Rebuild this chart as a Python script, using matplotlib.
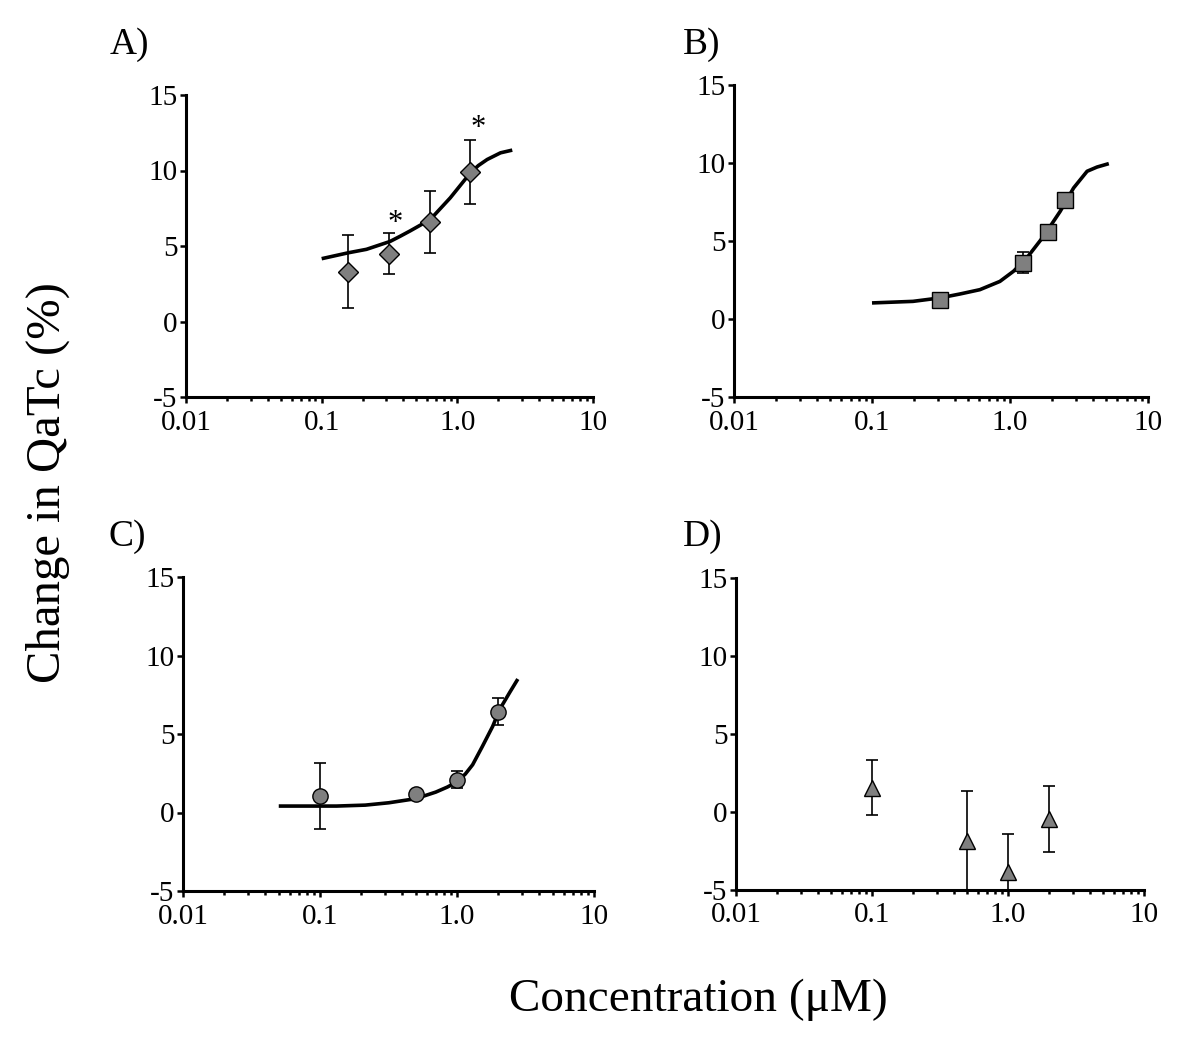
import numpy as np
import matplotlib
matplotlib.use('Agg')
import matplotlib.pyplot as plt
from matplotlib.ticker import FixedLocator, NullFormatter

plt.rcParams['font.family'] = ['Liberation Serif', 'DejaVu Serif']

# Panel A: diamonds
a_x = [0.156, 0.3125, 0.625, 1.25]
a_y = [3.3, 4.5, 6.6, 9.9]
a_err = [2.4, 1.37, 2.07, 2.1]
a_curve_x = [0.10, 0.157, 0.214, 0.319, 0.378, 0.449, 0.631, 0.887, 1.25, 1.43, 1.66, 2.08, 2.54]
a_curve_y = [4.16, 4.55, 4.78, 5.3, 5.64, 6.0, 6.75, 8.19, 9.85, 10.33, 10.73, 11.17, 11.35]
a_star_x = [0.35, 1.42]
a_star_y = [6.5, 12.8]

# Panel B: squares
b_x = [0.3125, 1.25, 1.875, 2.5]
b_y = [1.2, 3.6, 5.6, 7.6]
b_err = [0.0, 0.68, 0.0, 0.0]
b_curve_x = [0.10, 0.198, 0.31, 0.432, 0.605, 0.845, 1.06, 1.32, 1.75, 2.31, 2.89, 3.62, 4.27, 5.2]
b_curve_y = [1.03, 1.13, 1.35, 1.6, 1.88, 2.41, 3.06, 3.9, 5.3, 6.9, 8.4, 9.47, 9.74, 9.96]

# Panel C: circles
c_x = [0.1, 0.5, 1.0, 2.0]
c_y = [1.05, 1.2, 2.08, 6.42]
c_err = [2.1, 0.0, 0.55, 0.85]
c_curve_x = [0.05, 0.132, 0.214, 0.318, 0.5, 0.70, 0.85, 1.0, 1.15, 1.30, 1.53, 1.82, 2.05, 2.43, 2.78]
c_curve_y = [0.41, 0.41, 0.47, 0.62, 0.88, 1.3, 1.62, 1.95, 2.45, 3.04, 4.2, 5.48, 6.57, 7.66, 8.5]

# Panel D: triangles
d_x = [0.1, 0.5, 1.0, 2.0]
d_y = [1.55, -1.87, -3.87, -0.45]
d_err = [1.77, 3.2, 2.45, 2.13]

x_ticks = [0.01, 0.1, 1.0, 10]
x_ticklabels = ['0.01', '0.1', '1.0', '10']
y_ticks = [-5, 0, 5, 10, 15]
y_ticklabels = ['-5', '0', '5', '10', '15']

W, H = 1200, 1042
dpi = 100
fig = plt.figure(figsize=(W / dpi, H / dpi), dpi=dpi)


def px_axes(left, right, bottom, top):
    return fig.add_axes([left / W, 1 - bottom / H, (right - left) / W, (bottom - top) / H])


def style(ax):
    ax.set_xscale('log')
    ax.set_xlim(0.01, 10)
    ax.set_ylim(-5, 15)
    for s in ['top', 'right']:
        ax.spines[s].set_visible(False)
    for s in ['left', 'bottom']:
        ax.spines[s].set_linewidth(2.2)
    ax.xaxis.set_major_locator(FixedLocator(x_ticks))
    ax.set_xticklabels(x_ticklabels)
    ax.xaxis.set_minor_locator(FixedLocator(
        [m * d for d in [0.01, 0.1, 1.0] for m in range(2, 10)]))
    ax.xaxis.set_minor_formatter(NullFormatter())
    ax.set_yticks(y_ticks)
    ax.set_yticklabels(y_ticklabels)
    ax.tick_params(axis='both', which='major', labelsize=21, width=1.8, length=4,
                   direction='out', pad=5)
    ax.tick_params(axis='x', which='minor', width=1.8, length=3, direction='out')
    ax.tick_params(axis='y', pad=2)


def panel(ax, x, y, err, marker, ms, cx=None, cy=None):
    if cx is not None:
        ax.plot(cx, cy, color='black', lw=2.6, zorder=2, solid_capstyle='butt')
    ax.errorbar(x, y, yerr=err, fmt='none', ecolor='black', elinewidth=1.2,
                capsize=4, capthick=1.2, zorder=3)
    ax.plot(x, y, linestyle='none', marker=marker, ms=ms, mfc='#7f7f7f',
            mec='black', mew=1.0, zorder=4)


axA = px_axes(186, 593, 397, 95)
axB = px_axes(734, 1148, 397, 85)
axC = px_axes(183, 594, 891, 577)
axD = px_axes(736, 1144, 890, 578)
for ax in [axA, axB, axC, axD]:
    style(ax)

panel(axA, a_x, a_y, a_err, 'D', 10, a_curve_x, a_curve_y)
for sx, sy in zip(a_star_x, a_star_y):
    axA.text(sx, sy, '*', fontsize=22, ha='center', va='center')
panel(axB, b_x, b_y, b_err, 's', 11.5, b_curve_x, b_curve_y)
panel(axC, c_x, c_y, c_err, 'o', 11, c_curve_x, c_curve_y)
panel(axD, d_x, d_y, d_err, '^', 11.5)

fig.text(110 / W, 1 - 45 / H, 'A)', fontsize=27, ha='left', va='center')
fig.text(683 / W, 1 - 45 / H, 'B)', fontsize=27, ha='left', va='center')
fig.text(108 / W, 1 - 537 / H, 'C)', fontsize=27, ha='left', va='center')
fig.text(683 / W, 1 - 537 / H, 'D)', fontsize=27, ha='left', va='center')

fig.text(48 / W, 1 - 483 / H, 'Change in QaTc (%)', fontsize=35, rotation=90,
         ha='center', va='center')
fig.text(698 / W, 1 - 1000 / H, 'Concentration (\u03bcM)', fontsize=34,
         ha='center', va='center')

plt.savefig('out.png', dpi=dpi)
